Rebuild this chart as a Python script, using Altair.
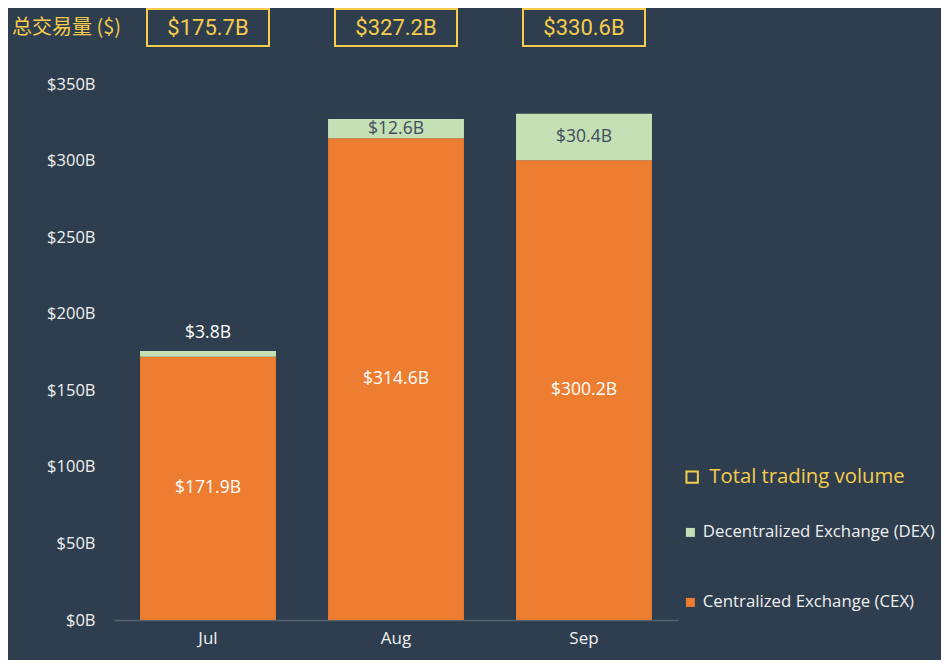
import altair as alt
import pandas as pd

months = ["Jul", "Aug", "Sep"]
cex = [171.9, 314.6, 300.2]
dex = [3.8, 12.6, 30.4]
totals = [175.7, 327.2, 330.6]
series_names = ["Decentralized Exchange (DEX)", "Centralized Exchange (CEX)"]

BG = "#2e3e4e"
ORANGE = "#ed7d31"
GREEN = "#c5e0b4"
GOLD = "#f5cc4c"
TXT = "#eef0f2"
FONT = "Open Sans"

rows = []
for m, c, d in zip(months, cex, dex):
    rows.append({"month": m, "series": series_names[1], "value": c, "order": 0,
                 "label": f"${c:.1f}B"})
    rows.append({"month": m, "series": series_names[0], "value": d, "order": 1,
                 "label": f"${d:.1f}B"})
df = pd.DataFrame(rows)

tot = pd.DataFrame({"month": months, "total": totals,
                    "label": [f"${t:.1f}B" for t in totals],
                    "legend": ["Total trading volume"] * 3})

xenc = alt.X("month:N", sort=months,
             scale=alt.Scale(paddingInner=0.277, paddingOuter=0.1385),
             axis=alt.Axis(title=None, labelAngle=0, labelColor=TXT, labelFontSize=17,
                           labelFont=FONT, labelPadding=10, ticks=False,
                           domainColor="#56636f", domainWidth=1.5))

bars = alt.Chart(df).mark_bar(strokeWidth=0).encode(
    x=xenc,
    y=alt.Y("value:Q", stack="zero",
            scale=alt.Scale(domain=[0, 350], nice=False),
            axis=alt.Axis(title=None, values=[0, 50, 100, 150, 200, 250, 300, 350],
                          labelExpr="'$' + datum.value + 'B'", labelColor=TXT,
                          labelFontSize=16.5, labelFont=FONT, labelPadding=19,
                          ticks=False, domain=False, grid=False)),
    color=alt.Color("series:N", scale=alt.Scale(domain=series_names, range=[GREEN, ORANGE]),
                    legend=alt.Legend(title=None, orient="none", legendX=568, legendY=440,
                                      symbolType="square", symbolSize=81, labelFontSize=16.8,
                                      labelFont=FONT, labelColor=TXT, rowPadding=52,
                                      labelOffset=4, symbolStrokeWidth=0, labelLimit=400)),
    order=alt.Order("order:Q"),
)

cex_text = alt.Chart(df).transform_filter(
    alt.datum.order == 0
).transform_calculate(mid="datum.value / 2").mark_text(
    color="white", fontSize=17.5, font=FONT
).encode(
    x=alt.X("month:N", sort=months),
    y=alt.Y("mid:Q"),
    text="label:N",
)

dex_in = alt.Chart(df).transform_pivot(
    "order", value="value", groupby=["month"]
).transform_calculate(
    mid="datum['0'] + datum['1'] / 2",
    lab="'$' + format(datum['1'], '.1f') + 'B'",
    small="datum['1'] < 10",
).transform_filter("!datum.small").mark_text(color="#3d4d5c", fontSize=17.5, font=FONT).encode(
    x=alt.X("month:N", sort=months),
    y=alt.Y("mid:Q"),
    text="lab:N",
)

dex_out = alt.Chart(df).transform_pivot(
    "order", value="value", groupby=["month"]
).transform_calculate(
    top="datum['0'] + datum['1']",
    lab="'$' + format(datum['1'], '.1f') + 'B'",
    small="datum['1'] < 10",
).transform_filter("datum.small").mark_text(color="white", fontSize=17.5, font=FONT, dy=-18).encode(
    x=alt.X("month:N", sort=months),
    y=alt.Y("top:Q"),
    text="lab:N",
)

boxes = alt.Chart(tot).mark_bar(size=122, fill=BG, strokeWidth=2).encode(
    x=alt.X("month:N", sort=months),
    y=alt.value(-75),
    y2=alt.value(-38),
    stroke=alt.Stroke("legend:N", scale=alt.Scale(domain=["Total trading volume"], range=[GOLD]),
                      legend=alt.Legend(title=None, orient="none", legendX=568, legendY=383,
                                        symbolType="square", symbolSize=130,
                                        symbolFillColor=BG, symbolOpacity=1,
                                        symbolStrokeWidth=2,
                                        labelFontSize=20.3, labelFont=FONT, labelColor=GOLD,
                                        labelOffset=7, labelLimit=400)),
)

box_text = alt.Chart(tot).mark_text(color=GOLD, fontSize=22, font="Roboto").encode(
    x=alt.X("month:N", sort=months),
    y=alt.value(-56),
    text="label:N",
)

title_text = alt.Chart(pd.DataFrame({"t": ["总交易量 ($)"]})).mark_text(
    color=GOLD, fontSize=20, font="Noto Sans CJK SC", align="left"
).encode(x=alt.value(-102), y=alt.value(-56), text="t:N")

chart = alt.layer(bars, cex_text, dex_in, dex_out, boxes, box_text, title_text).properties(
    width=564, height=536, background=BG,
    padding={"left": 106, "top": 76, "right": 263, "bottom": 40},
    autosize=alt.AutoSizeParams(type="none"),
).configure_view(stroke=None).resolve_scale(stroke="independent", color="independent")

chart.save("out.html", embed_options={"renderer": "svg", "actions": False})
